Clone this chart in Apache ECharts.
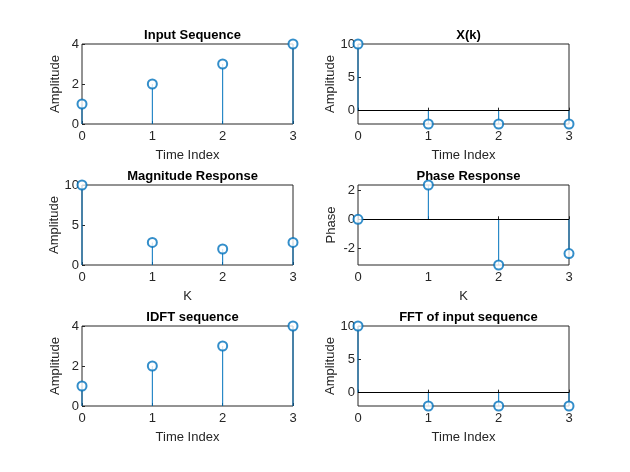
<!DOCTYPE html>
<html>
<head>
<meta charset="UTF-8">
<script src="https://cdn.jsdelivr.net/npm/echarts@6/dist/echarts.min.js"></script>
</head>
<body style="margin:0;background:#fff">
<div id="main" style="width:630px;height:472px;"></div>
<script type="text/javascript">
var kIndex = [0, 1, 2, 3];
var inputSeq = [1, 2, 3, 4];
var dftReal = [10, -2, -2, -2];
var magnitude = [10, 2.828, 2, 2.828];
var phase = [0, 2.356, -3.1416, -2.356];
var idftSeq = [1, 2, 3, 4];
var fftReal = [10, -2, -2, -2];

var panels = [
  { title: 'Input Sequence', xName: 'Time Index', yName: 'Amplitude', data: inputSeq, min: 0, max: 4, ticks: [0, 2, 4] },
  { title: 'X(k)', xName: 'Time Index', yName: 'Amplitude', data: dftReal, min: -2, max: 10, ticks: [0, 5, 10] },
  { title: 'Magnitude Response', xName: 'K', yName: 'Amplitude', data: magnitude, min: 0, max: 10, ticks: [0, 5, 10] },
  { title: 'Phase Response', xName: 'K', yName: 'Phase', data: phase, min: -3.1416, max: 2.356, ticks: [-2, 0, 2] },
  { title: 'IDFT sequence', xName: 'Time Index', yName: 'Amplitude', data: idftSeq, min: 0, max: 4, ticks: [0, 2, 4] },
  { title: 'FFT of input sequence', xName: 'Time Index', yName: 'Amplitude', data: fftReal, min: -2, max: 10, ticks: [0, 5, 10] }
];

var LEFTS = [82, 358];
var TOPS = [44, 185, 326];
var W = 211, H = 80;
var BLUE = '#0072BD';
var FONT = 'Liberation Sans';

var option = { animation: false, title: [], grid: [], xAxis: [], yAxis: [], series: [] };

panels.forEach(function (p, i) {
  var l = LEFTS[i % 2], t = TOPS[Math.floor(i / 2)];
  option.title.push({
    text: p.title, left: l + W / 2, top: t - 20, textAlign: 'center',
    textStyle: { fontFamily: FONT, fontSize: 13, fontWeight: 'bold', color: '#000' }
  });
  option.grid.push({ left: l, top: t, width: W, height: H, show: true, borderColor: '#262626', borderWidth: 1 });
  option.xAxis.push({
    type: 'value', gridIndex: i, min: 0, max: 3, interval: 1,
    name: p.xName, nameLocation: 'middle', nameGap: 25,
    nameTextStyle: { fontFamily: FONT, fontSize: 13, color: '#262626' },
    axisLine: { show: false }, splitLine: { show: false },
    axisTick: { inside: true, length: 3, lineStyle: { color: '#262626' } },
    axisLabel: { fontFamily: FONT, fontSize: 13, color: '#262626', margin: 6 }
  });
  option.yAxis.push({
    type: 'value', gridIndex: i, min: p.min, max: p.max,
    name: p.yName, nameLocation: 'middle', nameGap: 20,
    nameTextStyle: { fontFamily: FONT, fontSize: 13, color: '#262626' },
    axisLine: { show: false }, splitLine: { show: false },
    axisTick: { inside: true, length: 3, customValues: p.ticks, lineStyle: { color: '#262626' } },
    axisLabel: { fontFamily: FONT, fontSize: 13, color: '#262626', margin: 3, customValues: p.ticks, verticalAlign: 'middle' }
  });
  var pts = kIndex.map(function (k, j) { return [k, p.data[j]]; });
  var hasNeg = p.min < 0;
  option.series.push({
    type: 'bar', xAxisIndex: i, yAxisIndex: i, barWidth: 1, data: pts,
    itemStyle: { color: BLUE },
    markLine: hasNeg ? {
      silent: true, symbol: 'none', label: { show: false },
      lineStyle: { color: '#000', type: 'solid', width: 1 },
      data: [{ yAxis: 0 }]
    } : undefined
  });
  option.series.push({
    type: 'scatter', xAxisIndex: i, yAxisIndex: i, data: pts, clip: false,
    symbol: 'emptyCircle', symbolSize: 9, z: 5,
    itemStyle: { color: BLUE, borderColor: BLUE, borderWidth: 1 }
  });
});

echarts.init(document.getElementById('main')).setOption(option);
</script>
</body>
</html>
